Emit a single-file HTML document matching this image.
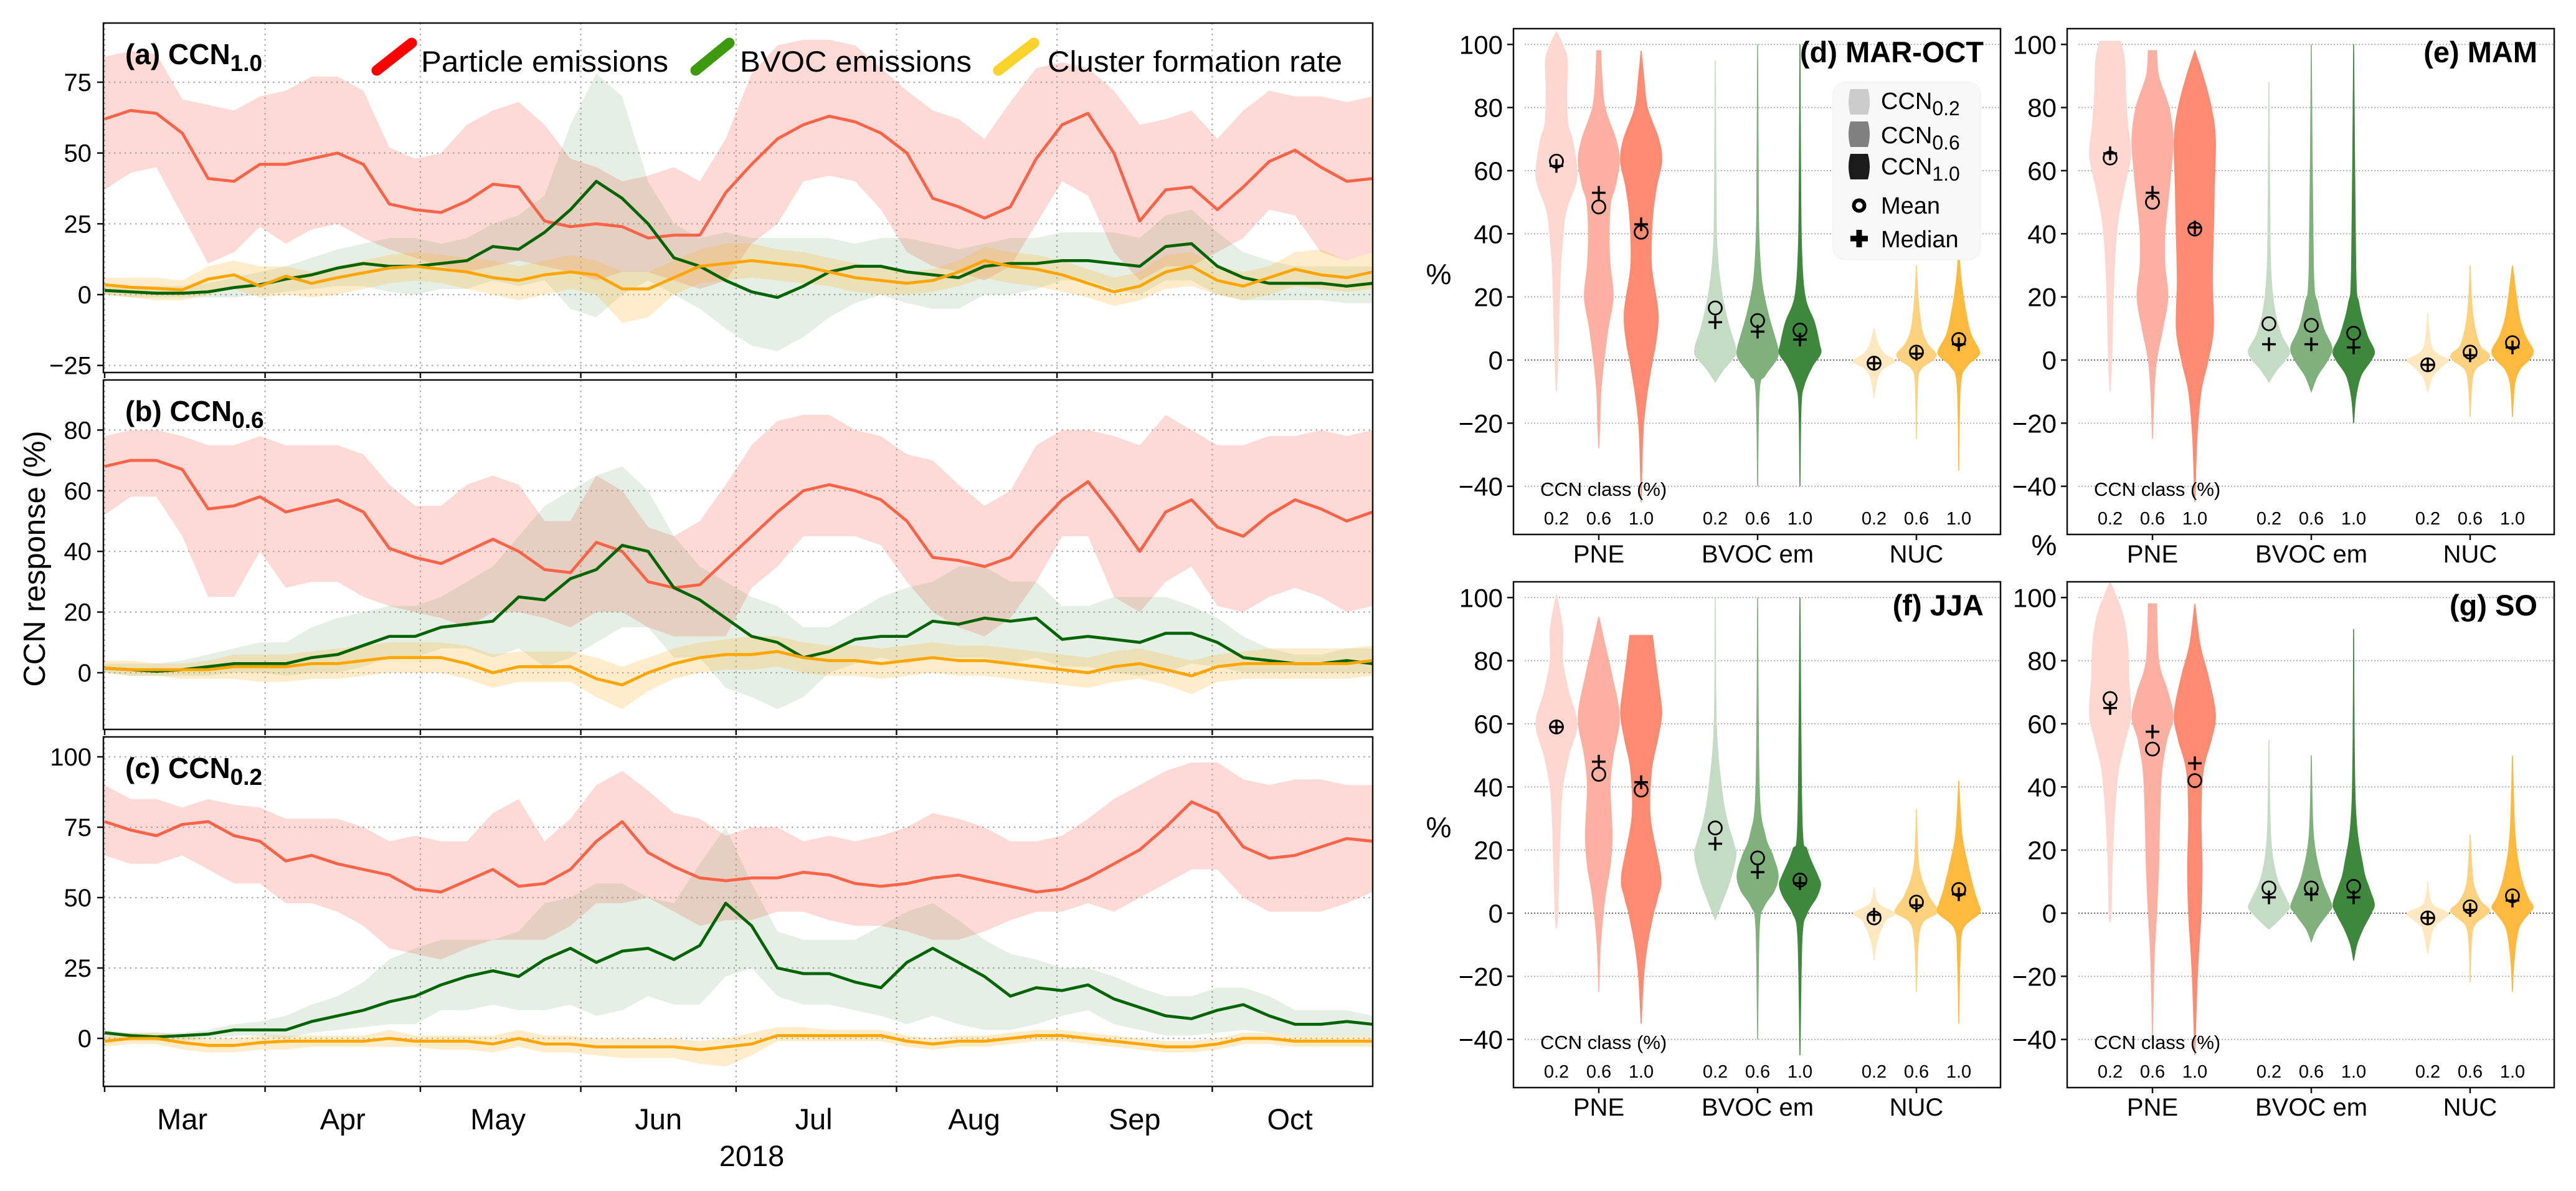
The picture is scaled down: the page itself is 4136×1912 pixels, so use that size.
<!DOCTYPE html>
<html><head><meta charset="utf-8">
<style>
html,body{margin:0;padding:0;background:#fff;}
svg{display:block;font-family:"Liberation Sans",Arial,sans-serif;}
</style></head>
<body>
<svg id="fig" width="4136" height="1912" viewBox="0 0 4136 1912" xmlns="http://www.w3.org/2000/svg">
<rect width="4136" height="1912" fill="#fff"/>
</svg>
<script>
// ---------- Time series data (days since Mar 1, step 5) ----------
const days = [0,5,10,15,20,25,30,35,40,45,50,55,60,65,70,75,80,85,90,95,100,105,110,115,120,125,130,135,140,145,150,155,160,165,170,175,180,185,190,195,200,205,210,215,220,225,230,235,240,245];
const monthStarts = [0,31,61,92,122,153,184,214];
const monthMids = [15,46,76,107,137,168,199,229];
const monthNames = ["Mar","Apr","May","Jun","Jul","Aug","Sep","Oct"];

// panel (a) CCN1.0
const aRedMean = [62,65,64,57,41,40,46,46,48,50,46,32,30,29,33,39,38,26,24,25,24,20,21,21,36,46,55,60,63,61,57,50,34,31,27,31,48,60,64,50,26,37,38,30,38,47,51,45,40,41];
const aRedHi   = [84,86,85,69,67,65,70,72,77,77,72,52,48,50,60,65,68,60,48,45,40,42,45,40,55,78,88,90,90,88,80,72,65,62,55,68,80,82,80,72,60,62,65,55,65,72,70,70,68,70];
const aRedLo   = [37,43,45,28,11,15,24,18,23,25,20,16,13,10,8,10,12,10,8,5,8,8,5,2,5,18,25,40,42,40,30,15,10,8,5,10,25,40,35,15,5,10,10,15,20,30,28,15,12,15];
const aGrnMean = [1.5,1,0.5,0.5,1,2.5,3.5,5.5,7,9.4,11,10,10,11,12,17,16,22,30,40,34,25,13,10,5,1,-1,3,8,10,10,8,7,6,10,11,11,12,12,11,10,17,18,10,6,4,4,4,3,4];
const aGrnHi   = [3,3,3,3,4,6,8,10,13,16,18,20,20,18,20,25,28,35,60,78,70,40,25,20,22,20,20,20,20,18,20,20,18,16,18,20,20,22,22,22,20,28,30,22,15,12,10,10,10,10];
const aGrnLo   = [0,-1,-1,-1,-1,-1,0,1,2,3,3,1,0,2,2,5,3,5,-5,-8,0,5,0,-5,-12,-18,-20,-15,-8,-3,0,-3,-5,-5,0,0,2,5,5,2,0,5,5,0,-2,-2,-2,-2,-3,-3];
const aOrgMean = [3.5,2.6,2.2,1.7,5.5,7,3,6.5,4,6,7.7,9.4,10,9,8,6,5,7,8,7,2,2,6,10,11,12,11,10,8,6,5,4,5,8,12,10,9,7,4,1,3,8,10,5,3,6,9,7,6,8];
const aOrgHi   = [6,6,6,5,10,12,10,10,8,10,12,14,15,14,13,12,10,12,14,12,8,8,12,16,18,18,16,15,13,11,10,8,9,12,17,15,14,12,9,6,8,14,15,10,8,10,15,16,12,15];
const aOrgLo   = [0,-1,-2,-2,0,2,-1,0,-1,0,2,4,5,4,2,0,-2,0,2,0,-10,-8,0,4,5,6,5,4,3,1,0,0,1,3,6,4,3,1,-1,-4,-2,2,3,0,-2,0,3,2,1,2];

// panel (b) CCN0.6
const bRedMean = [68,70,70,67,54,55,58,53,55,57,53,41,38,36,40,44,40,34,33,43,40,30,28,29,37,45,53,60,62,60,57,50,38,37,35,38,48,57,63,52,40,53,57,48,45,52,57,54,50,53];
const bRedHi   = [78,80,80,78,75,75,78,75,75,75,72,62,55,55,62,65,62,50,50,65,60,48,45,50,62,75,83,85,85,80,78,72,70,62,55,60,75,80,80,78,75,85,80,75,75,78,78,80,78,80];
const bRedLo   = [52,58,58,45,25,25,40,28,30,30,25,22,20,18,15,20,20,18,15,20,20,15,12,12,12,28,35,45,45,45,42,30,20,15,12,18,30,45,45,25,20,30,35,22,20,25,28,25,20,22];
const bGrnMean = [1.5,1,0.5,1,2,3,3,3,5,6,9,12,12,15,16,17,25,24,31,34,42,40,28,24,18,12,10,5,7,11,12,12,17,16,18,17,18,11,12,11,10,13,13,10,5,4,3,3,4,3];
const bGrnHi   = [3,3,3,4,6,8,10,10,15,18,20,22,22,25,30,35,45,55,60,65,68,60,45,35,30,25,22,15,15,20,25,28,30,35,35,30,30,22,22,25,25,25,22,18,12,8,6,6,8,8];
const bGrnLo   = [0,-1,-1,-1,-1,0,0,-1,0,0,2,5,5,8,8,5,8,2,5,10,15,15,5,5,-5,-8,-12,-8,0,3,5,3,5,5,5,3,5,2,2,0,-1,0,3,2,0,0,0,0,0,0];
const bOrgMean = [1.5,1,1,1,1,2,2,2,3,3,4,5,5,5,3,0,2,2,2,-2,-4,0,3,5,6,6,7,5,4,4,3,4,5,4,4,3,2,1,0,2,3,1,-1,2,3,3,3,3,3,4];
const bOrgHi   = [4,4,3,3,4,6,6,6,7,8,9,10,10,10,9,6,7,7,7,5,2,5,8,10,11,12,12,10,9,9,8,9,10,9,9,8,7,6,5,7,8,6,4,6,7,8,8,8,8,9];
const bOrgLo   = [0,-1,-1,-2,-2,-2,-3,-3,-2,-2,-1,0,0,0,-2,-5,-3,-3,-3,-8,-12,-6,-2,0,1,1,2,0,-1,-1,-2,-1,0,-1,-1,-2,-3,-4,-5,-3,-2,-4,-7,-3,-2,-2,-2,-2,-2,-1];

// panel (c) CCN0.2
const cRedMean = [77,74,72,76,77,72,70,63,65,62,60,58,53,52,56,60,54,55,60,70,77,66,61,57,56,57,57,59,58,55,54,55,57,58,56,54,52,53,57,62,67,75,84,80,68,64,65,68,71,70];
const cRedHi   = [90,85,85,82,85,83,82,78,78,78,75,70,72,70,70,80,85,70,78,90,95,88,80,78,72,75,75,70,72,70,72,75,80,78,75,70,70,72,78,85,90,95,98,98,92,90,92,92,90,90];
const cRedLo   = [65,62,62,65,60,55,55,48,48,45,40,32,30,28,32,35,35,35,40,48,48,50,45,40,42,42,45,45,42,40,40,38,35,35,38,42,45,45,48,45,50,55,60,60,50,45,45,45,48,52];
const cGrnMean = [2,1,0.5,1,1.5,3,3,3,6,8,10,13,15,19,22,24,22,28,32,27,31,32,28,33,48,40,25,23,23,20,18,27,32,27,22,15,18,17,19,14,11,8,7,10,12,8,5,5,6,5];
const cGrnHi   = [3,2,2,2,3,5,6,8,12,15,20,28,32,35,35,35,38,48,50,55,55,50,48,62,75,55,38,35,35,35,40,45,48,42,35,30,28,25,25,22,18,15,15,18,18,15,10,10,10,8];
const cGrnLo   = [0,-1,-1,-1,0,1,1,0,2,3,4,5,5,10,10,12,10,10,12,8,10,15,12,12,22,25,15,12,12,10,8,5,8,5,3,3,5,8,10,5,3,1,1,2,3,2,1,1,1,1];
const cOrgMean = [-1,0,0,-1.5,-2.5,-2.5,-1.5,-1,-1,-1,-1,0,-1,-1,-1,-2,0,-2,-2,-3,-3,-3,-3,-4,-3,-2,1,1,1,1,1,-1,-2,-1,-1,0,1,1,0,-1,-2,-3,-3,-2,0,0,-1,-1,-1,-1];
const cOrgHi   = [1,2,2,1,0,0,1,1,1,1,1,3,1,1,1,1,3,1,1,0,0,0,0,-1,0,2,4,4,3,3,3,1,0,1,1,2,3,3,2,1,0,-1,-1,0,2,2,1,1,1,1];
const cOrgLo   = [-3,-2,-2,-4,-5,-5,-4,-4,-3,-3,-3,-3,-3,-4,-4,-5,-3,-5,-5,-6,-7,-7,-7,-9,-10,-6,-1,-1,-1,-1,-1,-3,-4,-3,-3,-2,-1,-1,-2,-3,-4,-5,-5,-4,-2,-2,-3,-3,-3,-3];

const aTicks = [75,50,25,0,-25];
const bTicks = [80,60,40,20,0];
const cTicks = [100,75,50,25,0];

// ---------- Violin data ----------
const groupNames = ["PNE","BVOC em","NUC"];
const classLabels = ["0.2","0.6","1.0"];
const vTicks = [100,80,60,40,20,0,-20,-40];

const dVals = [
 [104,100,95,85,75,70,60,55,50,45,40,30,20,0,-10],
 [98,90,80,70,63,55,50,40,30,20,10,0,-10,-20,-28],
 [98,90,80,70,63,55,45,30,15,5,0,-10,-20,-30,-45],
 [95,60,40,30,20,10,5,2,0,-3,-7],
 [100,60,40,25,15,8,3,0,-5,-10,-40],
 [100,60,35,20,12,5,2,-2,-8,-15,-40],
 [10,5,2,0,-1,-3,-6,-12],
 [30,20,10,5,2,0,-3,-8,-25],
 [35,25,15,8,3,1,-2,-8,-35]];
const dWid = [
 [0,0.3,0.53,0.5,0.55,0.77,1,0.9,0.6,0.4,0.33,0.2,0.15,0.07,0],
 [0.1,0.15,0.3,0.82,1,0.8,0.58,0.5,0.55,0.7,0.45,0.25,0.1,0.05,0],
 [0,0.12,0.3,0.85,1,0.75,0.55,0.5,0.82,0.7,0.55,0.3,0.12,0.05,0],
 [0,0.03,0.06,0.15,0.35,0.7,0.95,1,0.8,0.4,0],
 [0,0.03,0.06,0.2,0.5,0.8,1,0.9,0.35,0.08,0],
 [0,0.03,0.08,0.25,0.7,0.95,1,0.6,0.2,0.05,0],
 [0,0.2,0.5,1,0.9,0.4,0.15,0],
 [0,0.08,0.25,0.55,0.95,0.8,0.2,0.05,0],
 [0,0.12,0.35,0.6,1,0.9,0.4,0.08,0]];
const dMean = [63,48.5,40.5,16.5,12.5,9.5,-1,2.5,6.5];
const dMed  = [61.5,53,43,12,9,6.5,-1,2,5];

const eVals = [
 [101,95,85,75,65,55,45,35,20,0,-10],
 [98,90,80,70,60,50,40,30,20,10,0,-10,-25],
 [98,90,80,70,55,40,25,10,0,-10,-25,-45],
 [88,40,25,15,8,3,0,-3,-7],
 [100,30,18,10,4,0,-5,-10],
 [100,30,18,8,3,0,-5,-12,-20],
 [15,5,2,0,-2,-5,-10],
 [30,15,5,2,0,-3,-8,-18],
 [30,15,8,3,0,-3,-8,-18]];
const eWid = [
 [0.5,0.7,0.75,0.85,1,0.7,0.4,0.25,0.15,0.08,0],
 [0.2,0.3,0.8,1,0.9,0.75,0.6,0.6,0.75,0.5,0.2,0.08,0],
 [0,0.4,0.8,1,0.95,0.9,0.85,0.9,0.65,0.3,0.1,0],
 [0,0.05,0.12,0.3,0.6,1,0.8,0.4,0],
 [0,0.1,0.3,0.6,1,0.8,0.3,0],
 [0,0.1,0.25,0.65,1,0.85,0.35,0.1,0],
 [0,0.15,0.45,1,0.7,0.25,0],
 [0,0.12,0.45,0.9,0.85,0.25,0.08,0],
 [0,0.3,0.6,1,0.8,0.35,0.1,0]];
const eMean = [64,50,41.5,11.5,11,8.5,-1.5,2.5,5.5];
const eMed  = [65.5,53,42,5,5,4,-1.5,1.5,4];

const fVals = [
 [101,90,80,70,60,50,40,30,20,0,-5],
 [94,85,75,62,50,40,25,15,5,-10,-25],
 [88,80,70,63,55,45,30,12,5,0,-10,-20,-35],
 [100,60,40,30,22,18,10,3,-2],
 [100,40,25,18,12,7,2,-5,-40],
 [100,30,20,12,9,5,0,-8,-45],
 [8,3,0,-2,-5,-10,-15],
 [33,15,6,2,0,-3,-10,-25],
 [42,25,15,7,3,0,-5,-15,-35]];
const fWid = [
 [0,0.3,0.3,0.6,1,0.6,0.3,0.2,0.15,0.06,0],
 [0,0.3,0.65,1,0.7,0.55,0.65,0.55,0.3,0.08,0],
 [0.55,0.7,0.9,1,0.8,0.5,0.45,0.95,0.8,0.6,0.3,0.12,0],
 [0,0.05,0.3,0.55,0.9,1,0.7,0.3,0],
 [0,0.08,0.35,0.75,1,0.8,0.3,0.08,0],
 [0,0.1,0.35,0.85,1,0.8,0.35,0.1,0],
 [0,0.2,1,0.6,0.35,0.1,0],
 [0,0.12,0.55,0.95,1,0.3,0.08,0],
 [0,0.15,0.45,0.75,0.95,1,0.2,0.06,0]];
const fMean = [59,44,39,27,17.5,10.5,-1.5,3.5,7.5];
const fMed  = [59,48,41.5,22,13,9.5,-0.5,2.5,6];

const gVals = [
 [105,95,85,75,63,55,45,30,15,0,-3],
 [98,80,70,62,55,45,30,15,0,-15,-40],
 [98,85,75,63,55,45,30,15,0,-20,-45],
 [55,25,12,5,2,0,-3,-5],
 [50,25,12,5,2,0,-5,-9],
 [90,35,15,8,3,0,-5,-10,-15],
 [10,3,0,-2,-5,-13],
 [25,10,4,1,-1,-4,-10,-22],
 [50,25,12,5,2,0,-5,-15,-25]];
const gWid = [
 [0,0.6,0.85,0.9,1,0.75,0.4,0.2,0.1,0.05,0],
 [0.2,0.3,0.75,1,0.7,0.45,0.35,0.3,0.2,0.08,0],
 [0,0.25,0.65,1,0.8,0.4,0.3,0.35,0.3,0.12,0],
 [0,0.08,0.35,0.8,1,0.8,0.35,0],
 [0,0.1,0.45,0.85,1,0.8,0.25,0],
 [0,0.08,0.45,0.75,1,0.85,0.45,0.15,0],
 [0,0.2,1,0.7,0.25,0],
 [0,0.15,0.5,0.95,0.7,0.2,0.05,0],
 [0,0.12,0.4,0.75,1,0.8,0.3,0.08,0]];
const gMean = [68,52,42,8,8,8.5,-1.5,2,5.5];
const gMed  = [65,57.5,47.5,5,6,5,-1.5,1,4];

// ---------- drawing ----------
const NS = "http://www.w3.org/2000/svg";
const svg = document.getElementById("fig");
function mk(tag, attrs, parent){
  const e = document.createElementNS(NS, tag);
  for (const k in attrs) e.setAttribute(k, attrs[k]);
  (parent||svg).appendChild(e);
  return e;
}
const X0 = 168, XPD = (2204-168)/245, AXL = 166, AXR = 2204;
const xd = d => X0 + d*XPD;

const leftPanels = [
  {top:37,bottom:598,y0:473,ppu:4.547,ticks:aTicks,label:"(a)",sub:"1.0",
   red:[aRedMean,aRedLo,aRedHi],grn:[aGrnMean,aGrnLo,aGrnHi],org:[aOrgMean,aOrgLo,aOrgHi]},
  {top:610,bottom:1171,y0:1080,ppu:4.87,ticks:bTicks,label:"(b)",sub:"0.6",
   red:[bRedMean,bRedLo,bRedHi],grn:[bGrnMean,bGrnLo,bGrnHi],org:[bOrgMean,bOrgLo,bOrgHi]},
  {top:1183,bottom:1744,y0:1667,ppu:4.52,ticks:cTicks,label:"(c)",sub:"0.2",
   red:[cRedMean,cRedLo,cRedHi],grn:[cGrnMean,cGrnLo,cGrnHi],org:[cOrgMean,cOrgLo,cOrgHi]}
];
const panelNames = ["panel-a-ccn10","panel-b-ccn06","panel-c-ccn02"];

leftPanels.forEach((p, pi) => {
  const g = mk("g", {});
  
  
  const yv = v => p.y0 - v*p.ppu;
  const cid = "clipL"+pi;
  const cp = mk("clipPath", {id:cid}, g);
  mk("rect", {x:AXL, y:p.top, width:AXR-AXL, height:p.bottom-p.top}, cp);
  // gridlines
  p.ticks.forEach(t => {
    const l = mk("line", {x1:AXL, x2:AXR, y1:yv(t), y2:yv(t), stroke:"#aaa", "stroke-width":2.2, "stroke-dasharray":"2.5,6"}, g);
    
    
  });
  monthStarts.forEach(m => {
    const l = mk("line", {x1:xd(m), x2:xd(m), y1:p.top, y2:p.bottom, stroke:"#aaa", "stroke-width":2.2, "stroke-dasharray":"2.5,6"}, g);
    
    
  });
  const series = [["red",p.red,"rgba(250,120,105,0.27)","#ff6347"],
                  ["green",p.grn,"rgba(70,140,70,0.14)","#006400"],
                  ["orange",p.org,"rgba(255,185,60,0.27)","#ffa500"]];
  const cg = mk("g", {"clip-path":"url(#"+cid+")"}, g);
  series.forEach(s => {
    const [name, arr, fill] = s;
    let d = "";
    days.forEach((dd,i) => { d += (i?"L":"M") + xd(dd).toFixed(1) + "," + yv(arr[2][i]).toFixed(1); });
    for (let i = days.length-1; i >= 0; i--) d += "L" + xd(days[i]).toFixed(1) + "," + yv(arr[1][i]).toFixed(1);
    const band = mk("path", {d:d+"Z", fill:fill, stroke:"none"}, cg);
    
    
  });
  series.forEach(s => {
    const [name, arr, , col] = s;
    const pts = days.map((dd,i) => xd(dd).toFixed(1)+","+yv(arr[0][i]).toFixed(1)).join(" ");
    const ln = mk("polyline", {points:pts, fill:"none", stroke:col, "stroke-width":4.8, "stroke-linejoin":"round"}, cg);
    
    
  });
  // frame
  const fr = mk("rect", {x:AXL, y:p.top, width:AXR-AXL, height:p.bottom-p.top, fill:"none", stroke:"#111", "stroke-width":2.5}, g);
  
  
  // y ticks
  p.ticks.forEach(t => {
    mk("line", {x1:AXL-10, x2:AXL, y1:yv(t), y2:yv(t), stroke:"#111", "stroke-width":2.5}, g);
    const tx = mk("text", {x:147, y:yv(t)+14, "text-anchor":"end", "font-size":40, fill:"#000"}, g);
    tx.textContent = t < 0 ? "\u2212" + Math.abs(t) : String(t);
    
    
  });
  // x ticks
  monthStarts.forEach(m => {
    mk("line", {x1:xd(m), x2:xd(m), y1:p.bottom, y2:p.bottom+9, stroke:"#111", "stroke-width":2.5}, g);
  });
  // title
  const tt = mk("text", {x:201, y:p.top+66, "font-size":46, "font-weight":"bold", fill:"#000"}, g);
  
  
  const t1 = mk("tspan", {}, tt); t1.textContent = p.label + " CCN";
  const t2 = mk("tspan", {dy:11, "font-size":37}, tt); t2.textContent = p.sub;
});

// month labels
monthMids.forEach((m,i) => {
  const t = mk("text", {x:xd(m), y:1813, "text-anchor":"middle", "font-size":47, fill:"#000"});
  t.textContent = monthNames[i];
  
  
});
{
  const t = mk("text", {x:1207, y:1872, "text-anchor":"middle", "font-size":47, fill:"#000"});
  t.textContent = "2018";
  
  
  const y = mk("text", {x:0, y:0, transform:"translate(72,897) rotate(-90)", "text-anchor":"middle", "font-size":49, fill:"#000"});
  y.textContent = "CCN response (%)";
  
  
}
// legend (a)
const legItems = [["Particle emissions","#ff0000",605,113,661,69,676,397],
                  ["BVOC emissions","#3c9a0c",1117,113,1171,69,1188,372],
                  ["Cluster formation rate","#f9d32a",1603,113,1660,69,1682,473]];
legItems.forEach(it => {
  const g = mk("g", {});
  
  
  mk("line", {x1:it[2], y1:it[3], x2:it[4], y2:it[5], stroke:it[1], "stroke-width":17, "stroke-linecap":"round"}, g);
  const t = mk("text", {x:it[6], y:115, "font-size":47, fill:"#000", textLength:it[7], lengthAdjust:"spacingAndGlyphs"}, g);
  t.textContent = it[0];
});

// ---------- violin panels ----------
const vPanels = [
  {dx:0,dy:0,vals:dVals,wid:dWid,mean:dMean,med:dMed,title:"(d) MAR-OCT",name:"panel-d-mar-oct"},
  {dx:889,dy:0,vals:eVals,wid:eWid,mean:eMean,med:eMed,title:"(e) MAM",name:"panel-e-mam"},
  {dx:0,dy:888,vals:fVals,wid:fWid,mean:fMean,med:fMed,title:"(f) JJA",name:"panel-f-jja"},
  {dx:889,dy:888,vals:gVals,wid:gWid,mean:gMean,med:gMed,title:"(g) SO",name:"panel-g-so"}
];
const vColors = ["#fed8d0","#fdb0a1","#fe8a72","#c5dcc4","#80b17d","#3e883d","#ffe8c0","#fed17e","#ffb93d"];
const VL = 2430, VR = 3212, VT = 46, VB = 858, VY0 = 578, VPPU = 5.067, HW = 33;

function smoothSide(pts){
  // Catmull-Rom to bezier through pts [[x,y],...]
  let d = "";
  for (let i = 0; i < pts.length-1; i++) {
    const p0 = pts[Math.max(i-1,0)], p1 = pts[i], p2 = pts[i+1], p3 = pts[Math.min(i+2,pts.length-1)];
    const c1 = [p1[0]+(p2[0]-p0[0])/6, p1[1]+(p2[1]-p0[1])/6];
    const c2 = [p2[0]-(p3[0]-p1[0])/6, p2[1]-(p3[1]-p1[1])/6];
    d += "C"+c1[0].toFixed(1)+","+c1[1].toFixed(1)+" "+c2[0].toFixed(1)+","+c2[1].toFixed(1)+" "+p2[0].toFixed(1)+","+p2[1].toFixed(1);
  }
  return d;
}

vPanels.forEach((p, pi) => {
  const g = mk("g", {});
  
  
  const L = VL+p.dx, R = VR+p.dx, T = VT+p.dy, B = VB+p.dy;
  const yv = v => VY0 + p.dy - v*VPPU;
  const cid = "clipV"+pi;
  const cp = mk("clipPath", {id:cid}, g);
  mk("rect", {x:L, y:T, width:R-L, height:B-T}, cp);
  vTicks.forEach(t => {
    const l = mk("line", {x1:L+18, x2:R, y1:yv(t), y2:yv(t), stroke: t===0 ? "#555" : "#aaa", "stroke-width":1.8, "stroke-dasharray":"2,3"}, g);
    
    
    mk("line", {x1:L-10, x2:L, y1:yv(t), y2:yv(t), stroke:"#111", "stroke-width":2.5}, g);
    const tx = mk("text", {x:L-17, y:yv(t)+15, "text-anchor":"end", "font-size":42, fill:"#000"}, g);
    tx.textContent = t < 0 ? "\u2212" + Math.abs(t) : String(t);
    
    
  });
  const cg = mk("g", {"clip-path":"url(#"+cid+")"}, g);
  for (let k = 0; k < 9; k++) {
    const gi = Math.floor(k/3), ci = k%3;
    const cx = 2567 + p.dx + gi*255 + (ci-1)*68;
    const vs = p.vals[k], ws = p.wid[k];
    const right = vs.map((v,i) => [cx + ws[i]*HW, yv(v)]);
    const left = vs.map((v,i) => [cx - ws[i]*HW, yv(v)]).reverse();
    let d = "M"+right[0][0].toFixed(1)+","+right[0][1].toFixed(1) + smoothSide(right);
    d += "L"+left[0][0].toFixed(1)+","+left[0][1].toFixed(1) + smoothSide(left) + "Z";
    const v = mk("path", {d:d, fill:vColors[k], stroke:vColors[k], "stroke-width":1.5}, cg);
    
    
    // mean circle
    const m = mk("circle", {cx:cx, cy:yv(p.mean[k]), r:10.5, fill:"none", stroke:"#000", "stroke-width":2.8}, cg);
    
    
    const my = yv(p.med[k]);
    const md = mk("path", {d:"M"+(cx-11)+","+my+"H"+(cx+11)+"M"+cx+","+(my-11)+"V"+(my+11), stroke:"#000", "stroke-width":3.5, fill:"none"}, cg);
    
    
    // class label
    const cl = mk("text", {x:cx, y:842+p.dy, "text-anchor":"middle", "font-size":29, fill:"#000"}, g);
    cl.textContent = classLabels[ci];
    
    
  }
  const fr = mk("rect", {x:L, y:T, width:R-L, height:B-T, fill:"none", stroke:"#111", "stroke-width":2.5}, g);
  
  
  groupNames.forEach((gn, gi) => {
    const gx = 2567 + p.dx + gi*255;
    mk("line", {x1:gx, x2:gx, y1:B, y2:B+9, stroke:"#111", "stroke-width":2.5}, g);
    const t = mk("text", {x:gx, y:903+p.dy, "text-anchor":"middle", "font-size":40, fill:"#000"}, g);
    t.textContent = gn;
    
    
  });
  const cc = mk("text", {x:2473+p.dx, y:796+p.dy, "font-size":31, fill:"#000"}, g);
  cc.textContent = "CCN class (%)";
  
  
  const ti = mk("text", {x:R-27, y:100+p.dy, "text-anchor":"end", "font-size":47, "font-weight":"bold", fill:"#000"}, g);
  ti.textContent = p.title;
  
  
});
// % labels
[[2310,456],[2310,1344],[3282,891]].forEach(pos => {
  const t = mk("text", {x:pos[0], y:pos[1], "text-anchor":"middle", "font-size":46, fill:"#000"});
  t.textContent = "%";
  
  
});
// violin legend
{
  const g = mk("g", {});
  
  
  mk("rect", {x:2943, y:132, width:237, height:285, rx:20, fill:"#f8f8f8", stroke:"#eee", "stroke-width":1}, g);
  const legCols = ["#cccccc","#808080","#1b1b1b"];
  const legSubs = ["0.2","0.6","1.0"];
  const rowTop = [143,195,247];
  const rowBase = [175,230,280];
  legCols.forEach((c,i) => {
    const t0 = rowTop[i], h = 41;
    const e = mk("path", {d:"M2971,"+t0+"H2999Q3005,"+(t0+h/2)+" 2999,"+(t0+h)+"H2971Q2965,"+(t0+h/2)+" 2971,"+t0+"Z", fill:c}, g);
    
    
    const t = mk("text", {x:3020, y:rowBase[i], "font-size":38, fill:"#000"}, g);
    
    
    const a = mk("tspan", {}, t); a.textContent = "CCN";
    const b = mk("tspan", {dy:10, "font-size":32}, t); b.textContent = legSubs[i];
  });
  mk("circle", {cx:2985, cy:330, r:8.5, fill:"none", stroke:"#000", "stroke-width":6}, g);
  const tm = mk("text", {x:3020, y:343, "font-size":38, fill:"#000"}, g); tm.textContent = "Mean";
  
  
  mk("path", {d:"M2971,383H2999M2985,369V397", stroke:"#000", "stroke-width":9}, g);
  const tmd = mk("text", {x:3020, y:397, "font-size":38, fill:"#000"}, g); tmd.textContent = "Median";
  
  
}
</script>
</body></html>
